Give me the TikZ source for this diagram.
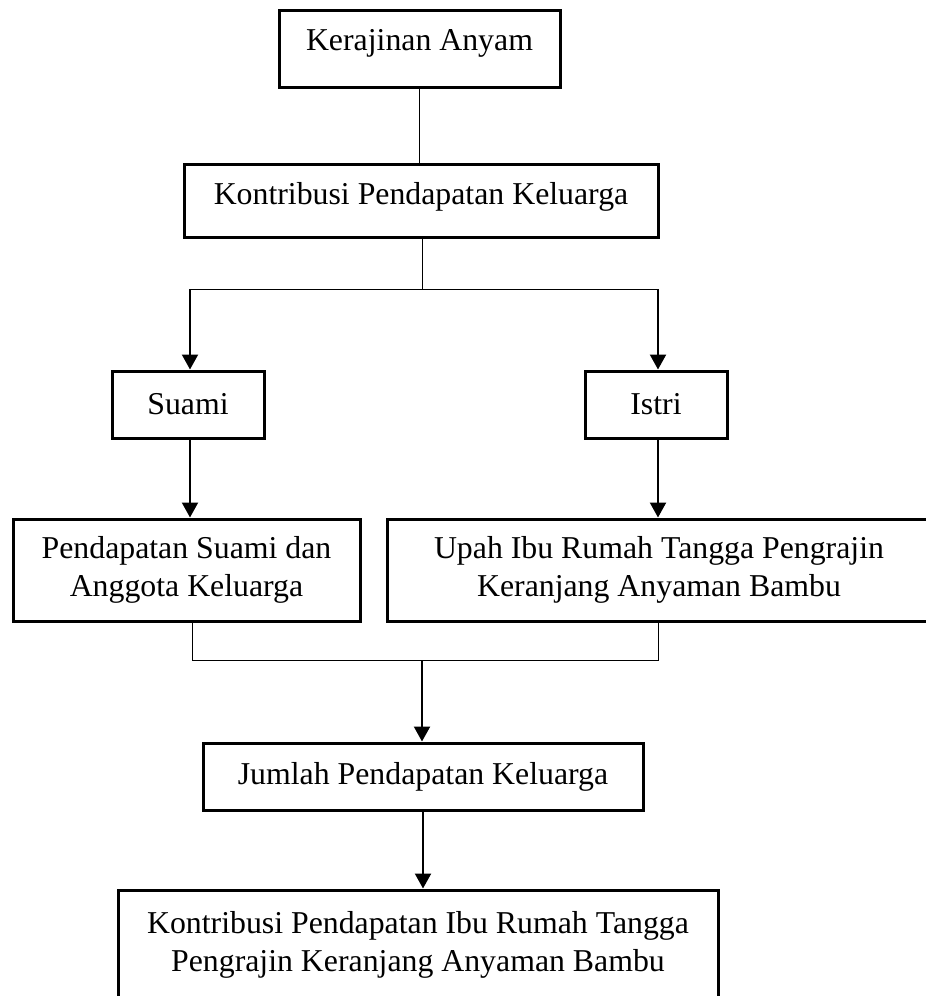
\documentclass[tikz,border=0pt]{standalone}
\usepackage{fontspec}
\setmainfont{Liberation Serif}
\usetikzlibrary{arrows.meta,positioning}

\begin{document}
\begin{tikzpicture}[x=0.5pt, y=-0.5pt, font=\fontsize{15.9}{18.8}\selectfont,
box/.style={draw, line width=1.5pt, align=center, inner sep=0pt},
arrow/.style={-{Triangle[length=7.5pt, width=8pt]}, line width=1.1pt},
link/.style={line width=0.5pt}]
\useasboundingbox (0,0) rectangle (926,996);
\clip (0,0) rectangle (926,996);
\node[box, minimum width=140.5pt, minimum height=38.5pt, text depth=8.5pt] (kerajinan) at (419.5,48.5) {Kerajinan Anyam};
\node[box, minimum width=237pt, minimum height=36.5pt, text depth=7.5pt] (kontribusi) at (421,200.5) {Kontribusi Pendapatan Keluarga};
\node[box, minimum width=76pt, minimum height=33.5pt] (suami) at (188,404.5) {Suami};
\node[box, minimum width=71pt, minimum height=33.5pt] (istri) at (656,404.5) {Istri};
\node[box, minimum width=173.5pt, minimum height=51pt] (pendsuami) at (186.5,570) {Pendapatan Suami dan\\Anggota Keluarga};
\node[box, minimum width=272pt, minimum height=51pt] (upah) at (659,570) {Upah Ibu Rumah Tangga Pengrajin\\Keranjang Anyaman Bambu};
\node[box, minimum width=220pt, minimum height=33.5pt] (jumlah) at (423,776.5) {Jumlah Pendapatan Keluarga};
\node[box, minimum width=300pt, minimum height=55pt] (kontribusiibu) at (418,945) {Kontribusi Pendapatan Ibu Rumah Tangga\\Pengrajin Keranjang Anyaman Bambu};
% titik cabang dan gabung
\coordinate (split) at (422,289);
\coordinate (splitL) at (190,289);
\coordinate (splitR) at (658,289);
\coordinate (joinL) at (192,660);
\coordinate (joinR) at (658,660);
\coordinate (join) at (422,660);
\draw[link] (kerajinan.south) -- (kerajinan.south |- kontribusi.north);
\draw[link] (split |- kontribusi.south) -- (split);
\draw[link] (splitL) -- (splitR);
\draw[arrow] (splitL) -- (splitL |- suami.north);
\draw[arrow] (splitR) -- (splitR |- istri.north);
\draw[arrow] (splitL |- suami.south) -- (splitL |- pendsuami.north);
\draw[arrow] (splitR |- istri.south) -- (splitR |- upah.north);
\draw[link] (joinL |- pendsuami.south) -- (joinL) -- (joinR) -- (joinR |- upah.south);
\draw[arrow] (join) -- (join |- jumlah.north);
\draw[arrow] (jumlah.south) -- (jumlah.south |- kontribusiibu.north);
\end{tikzpicture}
\end{document}
